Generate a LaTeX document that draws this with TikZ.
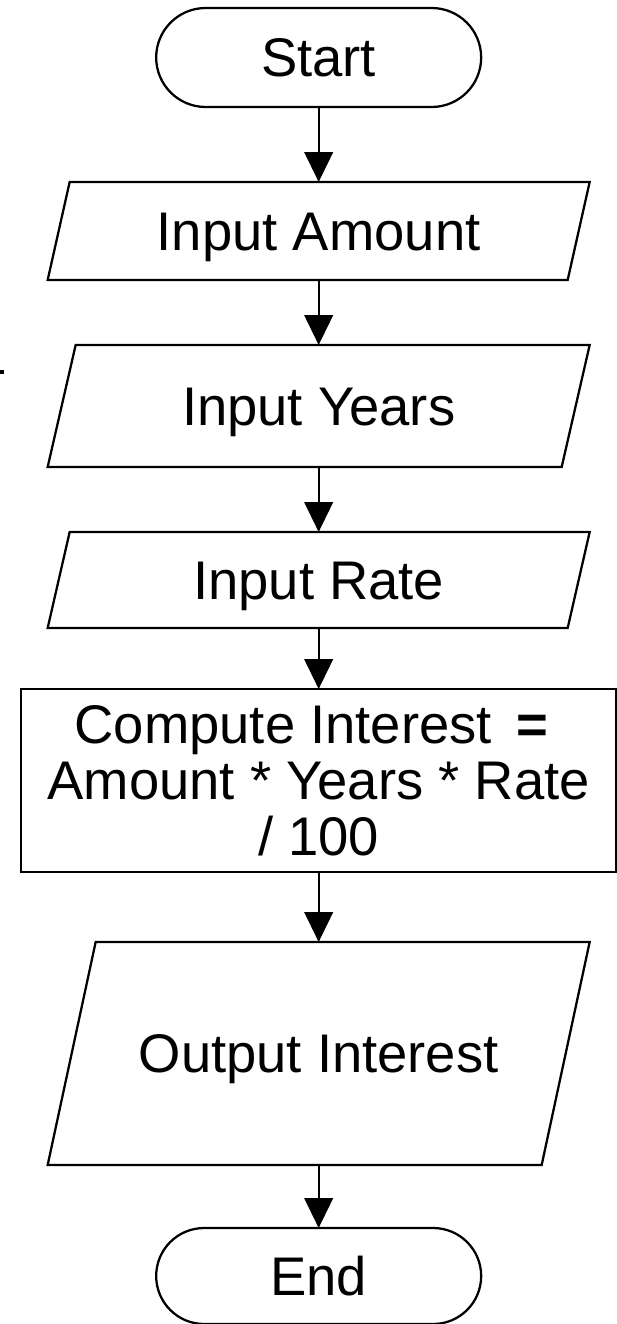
\documentclass[tikz,border=0pt]{standalone}
\usepackage{fontspec}
\setmainfont{Liberation Sans}
\usetikzlibrary{shapes.misc,arrows.meta}
\begin{document}
\begin{tikzpicture}[
  every node/.style={font=\fontsize{40.8pt}{42pt}\selectfont, inner sep=0pt, outer sep=0pt},
  shapeline/.style={draw=black, line width=1.7pt},
  terminal/.style={rounded rectangle, shapeline, minimum width=243.75pt, minimum height=74.25pt, text height=29pt, text depth=0pt},
  iobox/.style={rectangle, minimum width=406.5pt, text height=29pt, text depth=0pt},
  procbox/.style={rectangle, shapeline, minimum width=446.25pt, minimum height=137.25pt, align=center},
  flow/.style={line width=1.7pt, -{Triangle[length=22.5pt,width=21.5pt]}},
]
\useasboundingbox (0,0) rectangle (462.75pt,-993pt);
\newcommand\paraframe[2]{\draw[shapeline, line join=miter] ([xshift=#2]#1.north west) -- (#1.north east) -- ([xshift=-#2]#1.south east) -- (#1.south west) -- cycle;}

\node[terminal] (start) at (239pt,-43.125pt) {Start};
\node[iobox, minimum height=73.5pt] (amt) at (239pt,-173.25pt) {Input Amount};
\paraframe{amt}{16.5pt}
\node[iobox, minimum height=91.5pt] (yrs) at (239pt,-304.5pt) {Input Years};
\paraframe{yrs}{21pt}
\node[iobox, minimum height=72pt] (rate) at (239pt,-435pt) {Input Rate};
\paraframe{rate}{16.5pt}
\node[procbox] (comp) at (239pt,-585.375pt) {Compute Interest\hspace{0.45em}\textbf{=}\hspace*{0.27em}\\Amount * Years * Rate\\/ 100};
\node[iobox, minimum height=167.25pt] (out) at (239pt,-790.125pt) {Output Interest};
\paraframe{out}{36pt}
\node[terminal, minimum height=72pt] (end) at (239pt,-957pt) {End};

\draw[flow] (start.south) -- (amt.north);
\draw[flow] (amt.south) -- (yrs.north);
\draw[flow] (yrs.south) -- (rate.north);
\draw[flow] (rate.south) -- (comp.north);
\draw[flow] (comp.south) -- (out.north);
\draw[flow] (out.south) -- (end.north);

\fill[black] (0pt,-277.5pt) rectangle (3pt,-280.5pt);
\end{tikzpicture}
\end{document}
